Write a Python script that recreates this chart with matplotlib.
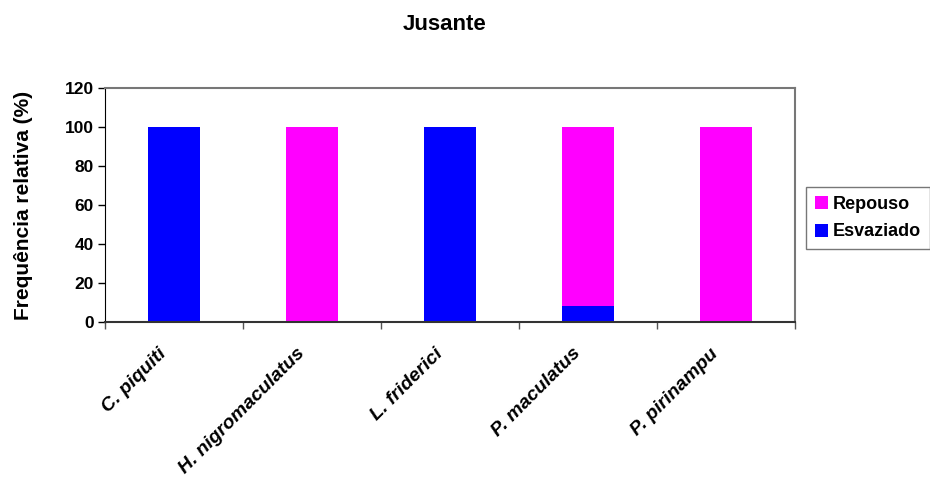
import matplotlib
matplotlib.use("Agg")
import matplotlib.pyplot as plt
import matplotlib.transforms as mtransforms
from matplotlib.patches import Patch
import numpy as np

plt.rcParams['font.family'] = ['Liberation Sans', 'DejaVu Sans']

species = ["C. piquiti", "H. nigromaculatus", "L. friderici", "P. maculatus", "P. pirinampu"]
esvaziado = [100, 0, 100, 8.3, 0]
repouso = [0, 100, 0, 91.7, 100]
yticks = [0, 20, 40, 60, 80, 100, 120]

c_esv = "#0000FF"
c_rep = "#FF00FF"

fig = plt.figure(figsize=(9.3, 4.8), dpi=100)
ax = fig.add_axes([105/930, 1-322/480, 690/930, 234/480])

x = np.arange(len(species))
w = 0.37
ax.bar(x, esvaziado, w, color=c_esv, linewidth=0)
ax.bar(x, repouso, w, bottom=esvaziado, color=c_rep, linewidth=0)

ax.set_xlim(-0.5, len(species) - 0.5)
ax.set_ylim(0, 120)
ax.set_yticks(yticks)
ax.set_yticklabels([str(v) for v in yticks], fontsize=12.5, fontweight='bold')
ax.tick_params(axis='y', direction='out', length=5, width=1, pad=3)

ax.set_xticks(x)
ax.set_xticklabels(species, fontsize=14, fontweight='bold', fontstyle='italic',
                   rotation=45, ha='right', va='top', rotation_mode='anchor')
ax.tick_params(axis='x', length=0, pad=18)
# shift the slanted species names a little to the left of their bars
shift = mtransforms.ScaledTranslation(-16/100, 2/100, fig.dpi_scale_trans)
for lbl in ax.get_xticklabels():
    lbl.set_transform(lbl.get_transform() + shift)
# category boundary ticks
ax.set_xticks(np.arange(-0.5, len(species), 1.0), minor=True)
ax.tick_params(axis='x', which='minor', direction='out', length=5, width=1, color='#555555')

ax.spines['left'].set_color('black')
ax.spines['bottom'].set_color('#333333')
ax.spines['bottom'].set_linewidth(1.5)
ax.spines['top'].set_color('#777777')
ax.spines['top'].set_linewidth(1.5)
ax.spines['right'].set_color('#777777')
ax.spines['right'].set_linewidth(1.5)

ax.set_ylabel("Frequência relativa (%)", fontsize=15, fontweight='bold', labelpad=23)

fig.text(445/930, 1-25/480, "Jusante", ha='center', va='center', fontsize=16, fontweight='bold')

handles = [Patch(facecolor=c_rep, edgecolor='none', label='Repouso'),
           Patch(facecolor=c_esv, edgecolor='none', label='Esvaziado')]
leg = fig.legend(handles=handles, loc='center', bbox_to_anchor=(868/930, 1-218/480),
                 frameon=True, fancybox=False, prop={'weight': 'bold', 'size': 13},
                 handlelength=0.75, handleheight=0.75, handletextpad=0.25,
                 borderpad=0.5, labelspacing=0.6, borderaxespad=0)
leg.get_frame().set_edgecolor('#555555')
leg.get_frame().set_linewidth(1.0)

fig.savefig("out.png", dpi=100)
